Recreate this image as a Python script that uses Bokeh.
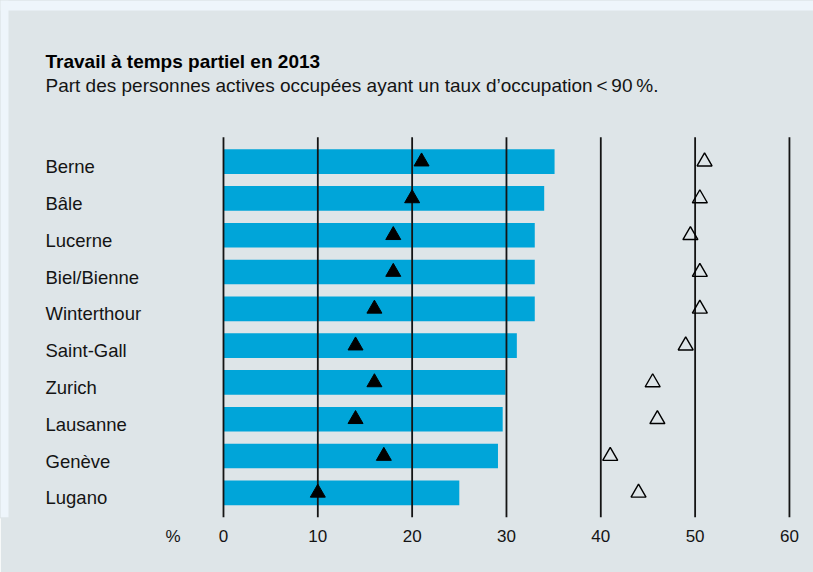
from bokeh.plotting import figure
from bokeh.models import Range1d, FixedTicker, BoxAnnotation
from bokeh.core.properties import value
from bokeh.embed import file_html
from bokeh.resources import INLINE

# ---- data ----
cities = ["Berne", "Bâle", "Lucerne", "Biel/Bienne", "Winterthour",
          "Saint-Gall", "Zurich", "Lausanne", "Genève", "Lugano"]
total = [35.1, 34.0, 33.0, 33.0, 33.0, 31.1, 29.9, 29.6, 29.1, 25.0]
men = [21.0, 20.0, 18.0, 18.0, 16.0, 14.0, 16.0, 14.0, 17.0, 10.0]
women = [51.0, 50.5, 49.5, 50.5, 50.5, 49.0, 45.5, 46.0, 41.0, 44.0]
ticks = [0, 10, 20, 30, 40, 50, 60]
unit_label = "%"
unit_pos = -5.35

title = "Travail à temps partiel en 2013"
subtitle = "Part des personnes actives occupées ayant un taux d’occupation\u2009<\u200990\u2009%."

BG = "#dee5e8"
PAGE = "#eef5fb"
BAR = "#00a5d9"
INK = "#141414"
FONT = "Liberation Sans"

# row positions (top row first)
n = len(cities)
rows = [n - 1 - i for i in range(n)]

# layout constants (pixels -> data)
X0, X1 = -23.64, 62.55          # frame spans the full width
Y0, Y1 = -0.671, 13.378         # frame spans top of canvas to the axis
grid_lo, grid_hi = Y0, (n - 1) + 0.66
label_x = -18.87

p = figure(width=813, height=572, output_backend="svg", toolbar_location=None,
           x_range=Range1d(X0, X1), y_range=Range1d(Y0, Y1),
           min_border_left=0, min_border_right=0,
           min_border_top=0, min_border_bottom=55)
p.background_fill_color = BG
p.border_fill_color = BG
p.outline_line_color = BG
p.outline_line_width = 2
p.xgrid.visible = False
p.ygrid.visible = False
p.yaxis.visible = False

# page strip at top / left
p.add_layout(BoxAnnotation(bottom=Y1 - 10 / 36.8, top=Y1, left=X0, right=X1,
                           fill_color=PAGE, fill_alpha=1, line_color=None, level="underlay"))
p.add_layout(BoxAnnotation(bottom=Y0, top=Y1, left=X0, right=X0 + 8 / 9.433,
                           fill_color=PAGE, fill_alpha=1, line_color=None, level="underlay"))

# titles
p.text(x=[label_x], y=[n - 1 + 2.726], text=[title],
       text_font=value(FONT), text_font_size="19px", text_font_style="bold",
       text_color="#000000", text_align="left", text_baseline="middle")
p.text(x=[label_x], y=[n - 1 + 2.073], text=[subtitle],
       text_font=value(FONT), text_font_size="19px", text_color=INK,
       text_align="left", text_baseline="middle")

# bars
p.hbar(y=rows, left=0, right=total, height=0.67, fill_color=BAR, line_color=None)

# vertical grid lines (over bars)
p.segment(x0=ticks, x1=ticks, y0=[grid_lo] * len(ticks), y1=[grid_hi] * len(ticks),
          line_color=INK, line_width=1.8)

# markers
p.scatter(x=men, y=rows, marker="triangle", size=15,
          fill_color="#000000", line_color="#000000")
p.scatter(x=women, y=rows, marker="triangle", size=15,
          fill_alpha=0, line_color="#000000", line_width=1.4)

# category labels
p.text(x=[label_x] * n, y=rows, text=cities,
       text_font=value(FONT), text_font_size="18.5px", text_color=INK,
       text_align="left", text_baseline="middle", y_offset=5)

ax = p.xaxis[0]
ax.ticker = FixedTicker(ticks=[unit_pos] + ticks)
ax.major_label_overrides = {unit_pos: unit_label}
ax.axis_line_color = None
ax.major_tick_line_color = None
ax.minor_tick_line_color = None
ax.major_label_standoff = 3
ax.major_label_text_font = FONT
ax.major_label_text_font_size = "17px"
ax.major_label_text_color = INK

open("out.html", "w").write(file_html(p, INLINE))
